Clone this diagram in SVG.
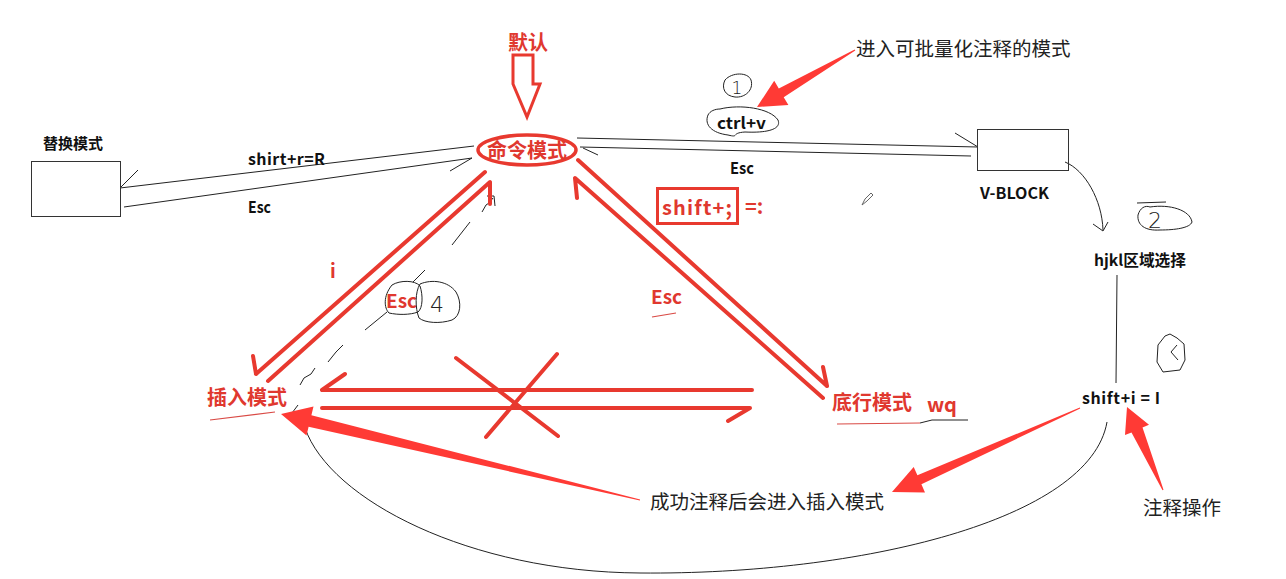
<svg xmlns="http://www.w3.org/2000/svg" width="1286" height="579" viewBox="0 0 1286 579">
<defs>
<style>
.bg{fill:#ffffff}
.t{font-family:"Noto Sans CJK SC","Liberation Sans",sans-serif}
.bk{fill:#111111;font-weight:bold}
.rd{fill:#e0382f;font-weight:bold}
.nm{fill:#222222;font-weight:normal}
.thin{fill:none;stroke:#222222;stroke-width:1}
.red{fill:none;stroke:#e8392f;stroke-width:4;stroke-linecap:round;stroke-linejoin:round}
.redthin{fill:none;stroke:#d94a45;stroke-width:1.2}
.big{fill:#ff3a35;stroke:none}
.hand{font-family:"DejaVu Sans",sans-serif;font-weight:200;fill:#222222}
</style>
</defs>
<rect class="bg" x="0" y="0" width="1286" height="579"/>

<g id="connectors">
  <path class="thin" d="M120,188 L474,146 M120,188 L138,170"/>
  <path class="thin" d="M124,207 L472,158 M450,171 L472,158"/>
  <path class="thin" d="M577,138 L978,147 M955,133 L978,147"/>
  <path class="thin" d="M580,147 L971,156 M583,148 L598,155"/>
  <path class="thin" d="M1065,162 C1085,170 1102,200 1103,230 M1093,224 L1103,231 L1108,222"/>
  <path class="thin" d="M1117,275 L1116,383"/>
  <path class="thin" d="M305,428 C330,500 470,572 640,573 C860,575 1090,520 1107,422"/>
  <path class="thin" d="M482,212 L486,205 L489,203 L493,198 M487,196 L494,196 L495,206 M452,245 L470,222 M413,282 L425,270 M365,330 L387,312 M328,362 L336,352 L343,345 M300,385 L304,378 L311,374 L315,368 M292,413 L298,405"/>

  <polygon points="513,55 533,55 533,84 540,84 527,117 513,84 513,84" fill="#ffffff" stroke="#e8392f" stroke-width="3" stroke-linejoin="miter"/>

  <path class="red" d="M485,172 L256,374 M253,356 L256,374"/>
  <path class="red" d="M268,381 L490,182 L490,204"/>
  <path class="red" d="M578,160 L827,386 M823,367 L827,386"/>
  <path class="red" d="M823,398 L575,178 L577,198"/>
  <path class="red" d="M345,374 L322,390 L752,390"/>
  <path class="red" d="M322,408 L750,408 L728,421"/>
  <path class="red" d="M456,358 L558,436 M557,354 L486,437"/>

  <polygon class="big" points="281,414 313.5,406.4 311.4,415.2 640.1,499.5 639.9,500.5 308.6,426.8 306.5,435.6"/>
  <polygon class="big" points="757,107 774.2,80.8 778.8,88.6 854.7,49.6 855.3,50.4 783.7,97.2 788.4,105"/>
  <polygon class="big" points="892,492 913.7,467 917.4,475.3 1079.8,407.6 1080.2,408.4 921.4,484.3 925,492.6"/>
  <polygon class="big" points="1127,407 1149,424.8 1142.5,427.6 1163.5,489.8 1162.5,490.2 1131.5,432.4 1125,435"/>

  <path class="redthin" d="M210,420 L275,412"/>
  <path class="redthin" d="M837,424 L920,423"/>
  <path class="thin" d="M920,423 L932,420 L968,420" stroke="#555555"/>
  <path class="redthin" d="M652,317 L676,313"/>
</g>

<g id="node-default">
  <text class="t rd" x="528" y="50" font-size="20" text-anchor="middle">默认</text>
</g>

<g id="node-command">
  <ellipse cx="527" cy="150" rx="49" ry="15" fill="none" stroke="#e8392f" stroke-width="3.5"/>
  <text class="t rd" x="527" y="158" font-size="20" text-anchor="middle">命令模式</text>
</g>

<g id="node-replace">
  <text class="t bk" x="73" y="149" font-size="15" text-anchor="middle">替换模式</text>
  <rect x="31.5" y="161.5" width="89" height="55" fill="none" stroke="#333333" stroke-width="1"/>
</g>

<g id="node-vblock">
  <rect x="977.5" y="129.5" width="91" height="41" fill="none" stroke="#333333" stroke-width="1"/>
  <text class="t bk" x="980" y="199" font-size="16" textLength="69" lengthAdjust="spacingAndGlyphs">V-BLOCK</text>
</g>

<g id="node-hjkl">
  <text class="t bk" x="1094" y="266" font-size="15.5" textLength="92" lengthAdjust="spacingAndGlyphs">hjkl区域选择</text>
</g>

<g id="node-shifti">
  <text class="t bk" x="1082" y="404" font-size="16" textLength="78" lengthAdjust="spacing">shift+i = I</text>
</g>

<g id="node-insert">
  <text class="t rd" x="207" y="405" font-size="20">插入模式</text>
</g>

<g id="node-bottom">
  <text class="t rd" x="832" y="410" font-size="20">底行模式</text>
  <text class="t rd" x="927" y="412" font-size="20">wq</text>
</g>

<g id="labels">
  <text class="t bk" x="248" y="165" font-size="16" textLength="77" lengthAdjust="spacing">shirt+r=R</text>
  <text class="t bk" x="248" y="213" font-size="16" textLength="23" lengthAdjust="spacingAndGlyphs">Esc</text>
  <text class="t bk" x="730" y="174" font-size="16" textLength="24" lengthAdjust="spacingAndGlyphs">Esc</text>

  <path class="thin" d="M720,109 C740,104 770,108 778,120 C782,130 765,133 745,132 C730,133 740,138 728,135 C712,133 704,125 708,115 C710,111 715,109 720,109 Z"/>
  <text class="t bk" x="717" y="129" font-size="16" textLength="49" lengthAdjust="spacingAndGlyphs">ctrl+v</text>

  <rect x="657.5" y="188.5" width="80" height="35" fill="none" stroke="#e8392f" stroke-width="3"/>
  <text class="t rd" x="662" y="215" font-size="20" textLength="70" lengthAdjust="spacing">shift+;</text>
  <text class="t rd" x="745" y="214" font-size="20">=:</text>

  <text class="t rd" x="330" y="278" font-size="19">i</text>
  <text class="t rd" x="651" y="304" font-size="19">Esc</text>

  <path class="thin" d="M392,285 C400,280 415,280 420,286 C423,295 423,308 418,312 C410,315 398,315 389,313 C384,308 383,296 392,285 Z"/>
  <text class="t rd" x="386" y="308" font-size="19">Esc</text>
  <path class="thin" d="M420,284 C432,279 448,281 456,292 C462,302 461,316 452,320 C440,324 425,323 419,318 C415,308 415,292 420,284 Z"/>
  <text class="hand" x="437" y="312" font-size="22" text-anchor="middle">4</text>

  <path class="thin" d="M725,80 C732,72 748,72 751,80 C754,90 745,98 735,97 C725,96 721,88 725,80 Z"/>
  <text class="hand" x="737" y="94" font-size="17" text-anchor="middle">1</text>

  <path class="thin" d="M1137,203 L1166,202 M1150,207 C1170,204 1190,210 1192,222 C1190,228 1175,230 1160,230 C1145,231 1137,225 1138,215 C1140,208 1145,205 1150,207 Z"/>
  <text class="hand" x="1155" y="228" font-size="22" text-anchor="middle">2</text>

  <path class="thin" d="M1170,334 L1177,338 L1184,344 L1185,360 L1180,370 L1163,372 L1157,362 L1158,345 L1165,336 Z M1177,345 L1171,352 L1178,360"/>

  <path d="M862,205 L865,199 L871,193 L873,195 L867,201 Z" fill="none" stroke="#666666" stroke-width="1"/>

  <text class="t nm" x="856" y="56" font-size="19.5">进入可批量化注释的模式</text>
  <text class="t nm" x="650" y="509" font-size="19.5">成功注释后会进入插入模式</text>
  <text class="t nm" x="1143" y="515" font-size="19.5">注释操作</text>
</g>
</svg>
